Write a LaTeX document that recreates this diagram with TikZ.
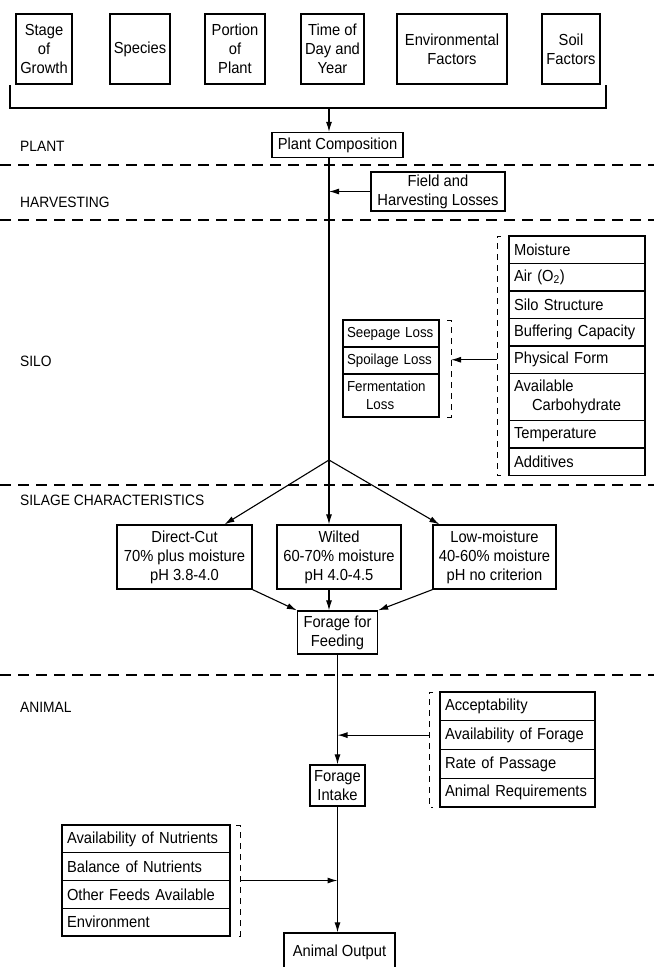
\documentclass[tikz,border=0pt]{standalone}
\usepackage{fontspec}
\setmainfont{Liberation Sans}[FakeStretch=0.92]
\usetikzlibrary{positioning,arrows.meta}

\begin{document}
\begin{tikzpicture}[
			x=1pt, y=-1pt,
			font=\fontsize{16}{19}\selectfont,
			box/.style    = {draw, line width=1.3pt, align=center, inner sep=0pt},
			factor/.style = {box, minimum height=70pt},
			cell/.style   = {draw, line width=1.3pt, align=left, inner xsep=5pt, inner ysep=0pt, outer sep=0pt, minimum height=27.5pt, anchor=north west},
			stage/.style  = {anchor=west, inner sep=0pt, font=\fontsize{15}{18}\selectfont},
			sep/.style    = {line width=1.3pt, dash pattern=on 11pt off 7pt},
			brk/.style    = {line width=1pt, dash pattern=on 6pt off 5pt},
			flow/.style   = {line width=1.1pt},
			>={Latex[length=10pt,width=6pt]}]
			
			\useasboundingbox (0,0) rectangle (654,967);
			\clip (0,0) rectangle (654,967);
			
			% factors on top
			\node[factor, minimum width=56pt] (sg) at (44,49) {Stage\\of\\Growth};
			\node[factor, minimum width=60pt] (sp) at (140,49) {Species};
			\node[factor, minimum width=60pt] (pp) at (235,49) {Portion\\of\\Plant};
			\node[factor, minimum width=63pt] (td) at (332.5,49) {Time of\\Day and\\Year};
			\node[factor, minimum width=110pt] (ef) at (452,49) {Environmental\\Factors};
			\node[factor, minimum width=58pt] (sf) at (571,49) {Soil\\Factors};
			
			% stages, left column
			\node[stage] (lplant) at (20,146) {PLANT};
			\node[stage] (lharv) at (20,202) {HARVESTING};
			\node[stage] (lsilo) at (20,361) {SILO};
			\node[stage] (lchar) at (20,500) {SILAGE CHARACTERISTICS};
			\node[stage] (lanim) at (20,707) {ANIMAL};
			
			\foreach \y in {165,220,485,675}
			\draw[sep] (0,\y) -- (654,\y);
			
			% main boxes
			\node[box, minimum width=131pt, minimum height=25pt] (pc) at (337.5,145) {Plant Composition};
			\node[box, minimum width=134pt, minimum height=39pt] (fh) at (438,191.5) {Field and\\Harvesting Losses};
			\node[box, minimum width=135pt, minimum height=64pt] (dc) at (184.5,557) {Direct-Cut\\70\% plus moisture\\pH 3.8-4.0};
			\node[box, minimum width=124pt, minimum height=64pt] (wl) at (339,557) {Wilted\\60-70\% moisture\\pH 4.0-4.5};
			\node[box, minimum width=123pt, minimum height=64pt] (lm) at (494.5,557) {Low-moisture\\40-60\% moisture\\pH no criterion};
			\node[box, minimum width=80pt, minimum height=43pt] (ff) at (337.5,632.5) {Forage for\\Feeding};
			\node[box, minimum width=55pt, minimum height=41pt] (fi) at (337.5,785.5) {Forage\\Intake};
			\node[box, minimum width=111pt, minimum height=38pt] (ao) at (339.5,952) {Animal Output};
			
			% silo factors
			\begin{scope}[every node/.style={cell, text width=126pt}]
				\node (m1) at (509,236) {Moisture};
				\node[below=0pt of m1] (m2) {Air (O\textsubscript{2})};
				\node[below=0pt of m2] (m3) {Silo Structure};
				\node[below=0pt of m3] (m4) {Buffering Capacity};
				\node[below=0pt of m4] (m5) {Physical Form};
				\node[below=0pt of m5, minimum height=47pt] (m6) {Available\\\hspace*{18pt}Carbohydrate};
				\node[below=0pt of m6] (m7) {Temperature};
				\node[below=0pt of m7] (m8) {Additives};
			\end{scope}
			
			% silo losses
			\begin{scope}[every node/.style={cell, inner xsep=4pt, text width=88pt, font=\fontsize{14.5}{18}\selectfont}]
				\node[minimum height=27pt] (s1) at (343,320) {Seepage Loss};
				\node[below=0pt of s1, minimum height=27pt] (s2) {Spoilage Loss};
				\node[below=0pt of s2, minimum height=43pt] (s3) {Fermentation\\\hspace*{19pt}Loss};
			\end{scope}
			
			% animal factors
			\begin{scope}[every node/.style={cell, minimum height=28.75pt, text width=145pt}]
				\foreach \txt [count=\i] in {Acceptability, Availability of Forage, Rate of Passage, Animal Requirements}
				\node (a\i) at (440,{692+28.75*(\i-1)}) {\txt};
			\end{scope}
			\begin{scope}[every node/.style={cell, minimum height=27.75pt, text width=158pt}]
				\foreach \txt [count=\i] in {Availability of Nutrients, Balance of Nutrients, Other Feeds Available, Environment}
				\node (n\i) at (62,{825+27.75*(\i-1)}) {\txt};
			\end{scope}
			
			% dashed brackets round the groups
			\draw[brk] ([xshift=-8pt]m1.north west) -- ++(-4,0) |- ([xshift=-8pt]m8.south west);
			\draw[brk] ([xshift=8pt]s1.north east) -- ++(4,0) |- ([xshift=8pt]s3.south east);
			\draw[brk] ([xshift=-7pt]a1.north west) -- ++(-4,0) |- ([xshift=-7pt]a4.south west);
			\draw[brk] ([xshift=6pt]n1.north east) -- ++(4,0) |- ([xshift=6pt]n4.south east);
			
			% bracket under the factors
			\draw[line width=1.3pt] (10,85) |- (606,108) -- (606,85);
			
			% main line
			\coordinate (top) at (329,108);
			\coordinate (split) at (329,460);
			\draw[flow,->] (top) -- (top |- pc.north);
			\draw[flow] (top |- pc.south) -- (split);
			\draw[flow,->] (fh.west) -- (fh.west -| split);
			
			\coordinate (sb) at ([xshift=-12pt]m5.west);
			\coordinate (lb) at ([xshift=12pt]s2.east);
			\draw[flow,->] (sb) -- (lb |- sb);
			
			\draw[flow,->] (split) -- ([xshift=40pt]dc.north);
			\draw[flow,->] (split) -- (split |- wl.north);
			\draw[flow,->] (split) -- ([xshift=7pt]lm.north west);
			
			\draw[flow,->] (dc.south east) -- (ff.north west);
			\draw[flow,->] (split |- wl.south) -- (split |- ff.north);
			\draw[flow,->] (lm.south west) -- (ff.north east);
			
			\draw[flow,->] (ff.south) -- (fi.north);
			\draw[flow,->] (fi.south) -- (fi.south |- ao.north);
			
			\coordinate (ab) at ([xshift=-11pt]a2.west);
			\draw[flow,->] (ab) -- (ab -| ff.south);
			\coordinate (nb) at ([xshift=10pt]n2.south east);
			\draw[flow,->] (nb) -- (nb -| fi.south);
		\end{tikzpicture}
\end{document}
